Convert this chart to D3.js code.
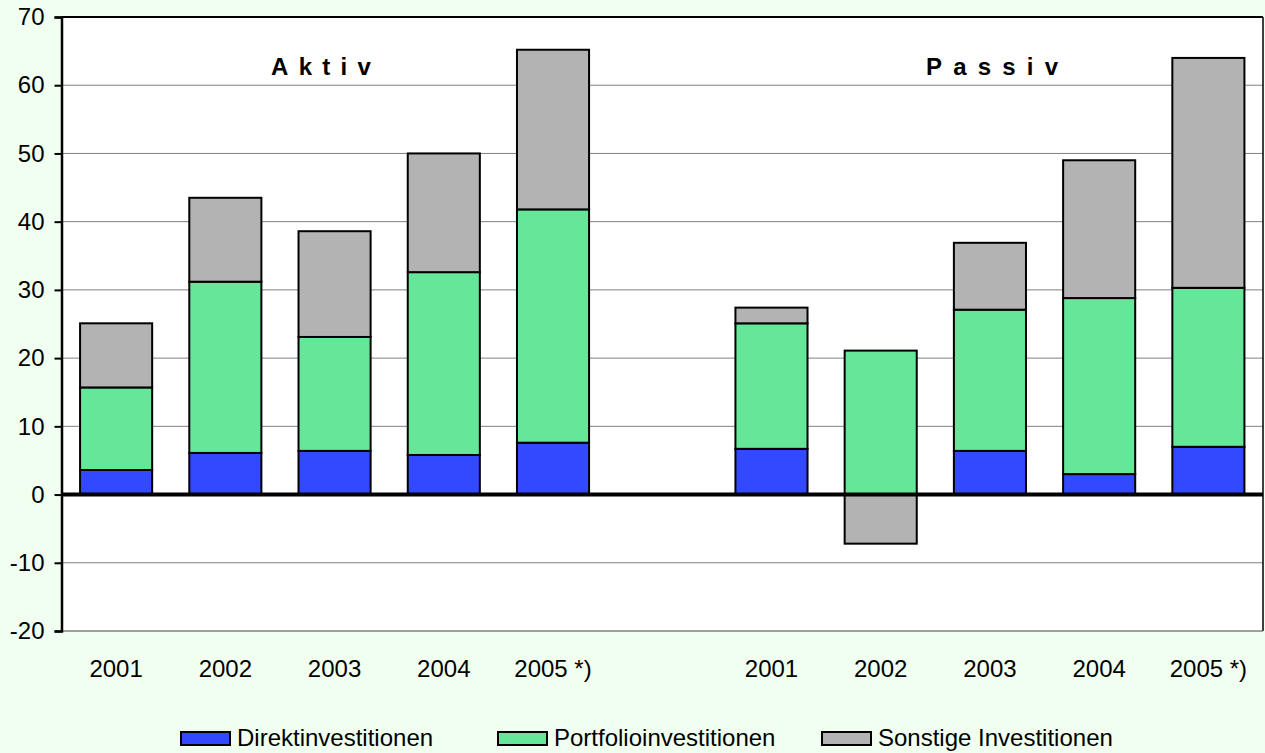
<!DOCTYPE html>
<html><head><meta charset="utf-8">
<script src="https://cdn.jsdelivr.net/npm/d3@7"></script>
<style>body{margin:0;background:#F0FFF0;}svg{display:block;font-family:"Liberation Sans",Arial,sans-serif;}</style>
</head><body>
<svg id="c" width="1265" height="753"></svg>
<script>
const categories = ["2001","2002","2003","2004","2005 *)","","2001","2002","2003","2004","2005 *)"];
const direkt    = [3.6, 6.1, 6.4, 5.8, 7.6, null, 6.7, 0.0, 6.4, 3.0, 7.0];
const portfolio = [12.1, 25.1, 16.7, 26.8, 34.2, null, 18.4, 21.1, 20.7, 25.8, 23.3];
const sonstige  = [9.4, 12.3, 15.5, 17.4, 23.4, null, 2.3, -7.2, 9.8, 20.2, 33.7];
const seriesNames = ["Direktinvestitionen","Portfolioinvestitionen","Sonstige Investitionen"];
const colors = ["#3349FF","#66E699","#B3B3B3"];
const yTicks = [-20,-10,0,10,20,30,40,50,60,70];
const groupLabels = ["Aktiv","Passiv"];

const svg = d3.select("#c");
const L=61.5, R=1263, T=17, B=631;
const FS = 24;
const x = d3.scaleBand().domain(d3.range(categories.length)).range([L,R]).paddingInner(0.34).paddingOuter(0.17);
const y = d3.scaleLinear().domain([-20,70]).range([B,T]);

svg.append("rect").attr("x",L).attr("y",T).attr("width",R-L).attr("height",B-T).attr("fill","#fff");

svg.append("g").selectAll("line").data(yTicks.filter(d=>d!==0 && d!==70)).join("line")
  .attr("x1",L).attr("x2",R).attr("y1",d=>y(d)).attr("y2",d=>y(d))
  .attr("stroke","#808080").attr("stroke-width",1);

const data = [direkt, portfolio, sonstige];
categories.forEach((c,i)=>{
  if (direkt[i]===null) return;
  let pos=0, neg=0;
  data.forEach((s,k)=>{
    const v=s[i];
    if (v===0) return;
    let y0,y1;
    if (v>=0){y0=pos;y1=pos+v;pos=y1;} else {y0=neg;y1=neg+v;neg=y1;}
    svg.append("rect").attr("x",x(i)).attr("width",x.bandwidth())
      .attr("y",y(Math.max(y0,y1))).attr("height",Math.abs(y(y0)-y(y1)))
      .attr("fill",colors[k]).attr("stroke","#000").attr("stroke-width",2);
  });
});

svg.append("line").attr("x1",L).attr("x2",R).attr("y1",T).attr("y2",T).attr("stroke","#000").attr("stroke-width",2);
svg.append("line").attr("x1",R).attr("x2",R).attr("y1",T).attr("y2",B).attr("stroke","#000").attr("stroke-width",1.5);
svg.append("line").attr("x1",L).attr("x2",R).attr("y1",B).attr("y2",B).attr("stroke","#808080").attr("stroke-width",1);

const ya = svg.append("g").attr("transform",`translate(${L},0)`)
  .call(d3.axisLeft(y).tickValues(yTicks).tickSize(7).tickPadding(10).tickFormat(d=>String(d)));
ya.select(".domain").attr("stroke","#000").attr("stroke-width",2.5);
ya.selectAll(".tick line").attr("stroke","#000").attr("stroke-width",2);
ya.selectAll("text").attr("font-size",FS).attr("fill","#000").attr("font-family","Liberation Sans, Arial, sans-serif");

svg.append("line").attr("x1",L).attr("x2",R).attr("y1",y(0)).attr("y2",y(0)).attr("stroke","#000").attr("stroke-width",4);

svg.append("g").selectAll("text").data(categories).join("text")
  .attr("x",(d,i)=>x(i)+x.bandwidth()/2).attr("y",677).attr("text-anchor","middle")
  .attr("font-size",FS).attr("fill","#000").text(d=>d);

[[271,groupLabels[0],10.3],[926,groupLabels[1],11.2]].forEach(([px,t,ls])=>{
  svg.append("text").attr("x",px).attr("y",75).attr("text-anchor","start")
    .attr("font-size",24).attr("font-weight","bold").attr("letter-spacing",ls).attr("fill","#000").text(t);
});

const legX=[181,498,822];
seriesNames.forEach((n,k)=>{
  svg.append("rect").attr("x",legX[k]).attr("y",732).attr("width",49).attr("height",13)
    .attr("fill",colors[k]).attr("stroke","#000").attr("stroke-width",2);
  svg.append("text").attr("x",legX[k]+56).attr("y",746).attr("font-size",FS).attr("fill","#000").text(n);
});
</script>
</body></html>
